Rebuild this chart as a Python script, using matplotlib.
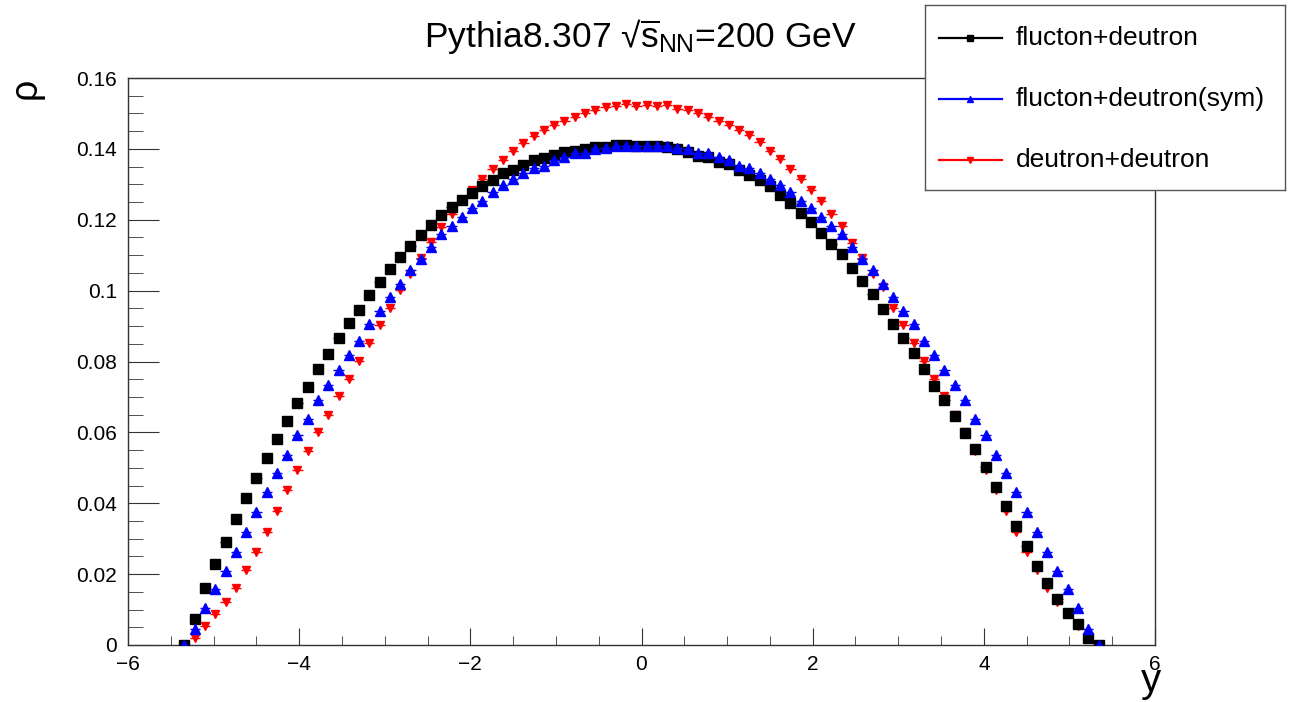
import matplotlib.pyplot as plt
import numpy as np
from matplotlib.ticker import MultipleLocator, FuncFormatter

plt.rcParams['font.family'] = ['Liberation Sans', 'DejaVu Sans']
plt.rcParams['mathtext.fontset'] = 'custom'
plt.rcParams['mathtext.rm'] = 'Liberation Sans'
plt.rcParams['mathtext.it'] = 'Liberation Sans:italic'

# histogram binning: 90 bins in [-5.4, 5.4]
binEdges = np.linspace(-5.4, 5.4, 91)
binCenters = 0.5 * (binEdges[1:] + binEdges[:-1])
halfWidth = 0.5 * (binEdges[1] - binEdges[0])

fluctonDeutron = [
    0.0, 0.0073, 0.0160, 0.0229, 0.0292, 0.0355, 0.0414, 0.0472, 0.0529, 0.0582,
    0.0632, 0.0683, 0.0729, 0.0779, 0.0821, 0.0867, 0.0908, 0.0945, 0.0988, 0.1024,
    0.1060, 0.1095, 0.1127, 0.1156, 0.1185, 0.1212, 0.1235, 0.1256, 0.1275, 0.1294,
    0.1312, 0.1331, 0.1339, 0.1355, 0.1368, 0.1374, 0.1382, 0.1391, 0.1393, 0.1399,
    0.1405, 0.1406, 0.1412, 0.1412, 0.1407, 0.1409, 0.1408, 0.1404, 0.1400, 0.1391,
    0.1381, 0.1378, 0.1362, 0.1358, 0.1341, 0.1326, 0.1312, 0.1294, 0.1270, 0.1247,
    0.1218, 0.1193, 0.1162, 0.1132, 0.1103, 0.1064, 0.1028, 0.0990, 0.0947, 0.0906,
    0.0866, 0.0823, 0.0778, 0.0731, 0.0692, 0.0646, 0.0598, 0.0552, 0.0501, 0.0447,
    0.0392, 0.0336, 0.0279, 0.0223, 0.0174, 0.0129, 0.0091, 0.0058, 0.0021, 0.0,
]

fluctonDeutronSym = [
    0.0, 0.0046, 0.0105, 0.0158, 0.0210, 0.0262, 0.0318, 0.0375, 0.0431, 0.0486,
    0.0537, 0.0592, 0.0637, 0.0692, 0.0733, 0.0776, 0.0817, 0.0859, 0.0905, 0.0942,
    0.0981, 0.1019, 0.1058, 0.1090, 0.1122, 0.1159, 0.1182, 0.1207, 0.1233, 0.1253,
    0.1279, 0.1297, 0.1314, 0.1333, 0.1345, 0.1353, 0.1368, 0.1376, 0.1388, 0.1388,
    0.1399, 0.1402, 0.1408, 0.1408, 0.1408, 0.1408, 0.1408, 0.1408, 0.1402, 0.1399,
    0.1388, 0.1388, 0.1376, 0.1368, 0.1353, 0.1345, 0.1333, 0.1314, 0.1297, 0.1279,
    0.1253, 0.1233, 0.1207, 0.1182, 0.1159, 0.1122, 0.1090, 0.1058, 0.1019, 0.0981,
    0.0942, 0.0905, 0.0859, 0.0817, 0.0776, 0.0733, 0.0692, 0.0637, 0.0592, 0.0537,
    0.0486, 0.0431, 0.0375, 0.0318, 0.0262, 0.0210, 0.0158, 0.0105, 0.0046, 0.0,
]

deutronDeutron = [
    0.0, 0.0020, 0.0054, 0.0087, 0.0121, 0.0162, 0.0211, 0.0263, 0.0320, 0.0379,
    0.0437, 0.0494, 0.0548, 0.0600, 0.0649, 0.0702, 0.0750, 0.0802, 0.0852, 0.0903,
    0.0952, 0.1001, 0.1046, 0.1091, 0.1136, 0.1180, 0.1216, 0.1252, 0.1285, 0.1315,
    0.1344, 0.1369, 0.1394, 0.1416, 0.1435, 0.1452, 0.1467, 0.1480, 0.1491, 0.1501,
    0.1510, 0.1519, 0.1522, 0.1527, 0.1522, 0.1524, 0.1522, 0.1525, 0.1513, 0.1510,
    0.1501, 0.1491, 0.1480, 0.1466, 0.1454, 0.1438, 0.1419, 0.1394, 0.1371, 0.1343,
    0.1314, 0.1284, 0.1253, 0.1216, 0.1181, 0.1135, 0.1093, 0.1046, 0.1011, 0.0952,
    0.0903, 0.0852, 0.0802, 0.0750, 0.0702, 0.0649, 0.0600, 0.0548, 0.0494, 0.0437,
    0.0379, 0.0320, 0.0263, 0.0211, 0.0162, 0.0121, 0.0087, 0.0054, 0.0020, 0.0,
]

seriesNames = ['flucton+deutron', 'flucton+deutron(sym)', 'deutron+deutron']
seriesData = [fluctonDeutron, fluctonDeutronSym, deutronDeutron]
seriesColors = ['#000000', '#0000ff', '#ff0000']
seriesMarkers = ['s', '^', 'v']
markerSizes = [7, 6.8, 6]
zOrders = [3, 4, 2]

W, H = 1296, 702
fig = plt.figure(figsize=(12.96, 7.02), dpi=100)
ax = fig.add_axes([128 / W, 57 / H, 1027 / W, 567 / H])

for name, data, color, marker, ms, z in zip(seriesNames, seriesData, seriesColors,
                                             seriesMarkers, markerSizes, zOrders):
    ax.errorbar(binCenters, data, xerr=halfWidth, fmt=marker, color=color, ms=ms,
                elinewidth=1, capsize=0, zorder=z)

ax.set_xlim(-6, 6)
ax.set_ylim(0, 0.16)
ax.xaxis.set_major_locator(MultipleLocator(2))
ax.xaxis.set_minor_locator(MultipleLocator(0.5))
ax.yaxis.set_major_locator(MultipleLocator(0.02))
ax.yaxis.set_minor_locator(MultipleLocator(0.005))
ax.yaxis.set_major_formatter(FuncFormatter(lambda v, p: '%g' % round(v, 3)))

ax.tick_params(axis='both', which='both', direction='in', color='#333333',
               labelsize=15, top=False, right=False)
ax.tick_params(axis='x', which='major', length=12.5, pad=7)
ax.tick_params(axis='x', which='minor', length=6.3)
ax.tick_params(axis='y', which='major', length=22, pad=8)
ax.tick_params(axis='y', which='minor', length=11)
for sp in ax.spines.values():
    sp.set_color('#333333')
    sp.set_linewidth(1)

ax.set_xlabel('y', fontsize=29, loc='right')
ax.xaxis.set_label_coords(1.006, -0.03)
ax.set_ylabel('ρ', fontsize=27, loc='top')
ax.yaxis.set_label_coords(-0.082, 1.0)

fig.text(640 / W, 1 - 37 / H, r'Pythia8.307 √$\overline{\mathrm{s}}_{\mathrm{NN}}$=200 GeV',
         fontsize=25.5, ha='center', va='center')

# legend box, drawn in its own axes measured in pixels
legAx = fig.add_axes([925 / W, 1 - 190 / H, 360 / W, 185 / H])
legAx.set_xlim(925, 1285)
legAx.set_ylim(190, 5)
legAx.set_xticks([])
legAx.set_yticks([])
for sp in legAx.spines.values():
    sp.set_color('#555555')
    sp.set_linewidth(1)
rowY = [38, 99, 160]
for name, color, marker, yy in zip(seriesNames, seriesColors, seriesMarkers, rowY):
    legAx.plot([939, 1002], [yy, yy], color=color, lw=1.6)
    legAx.plot([970], [yy], marker=marker, color=color, ms=5)
    legAx.text(1016, yy, name, fontsize=19, va='center', ha='left')

fig.savefig('out.png', dpi=100)
